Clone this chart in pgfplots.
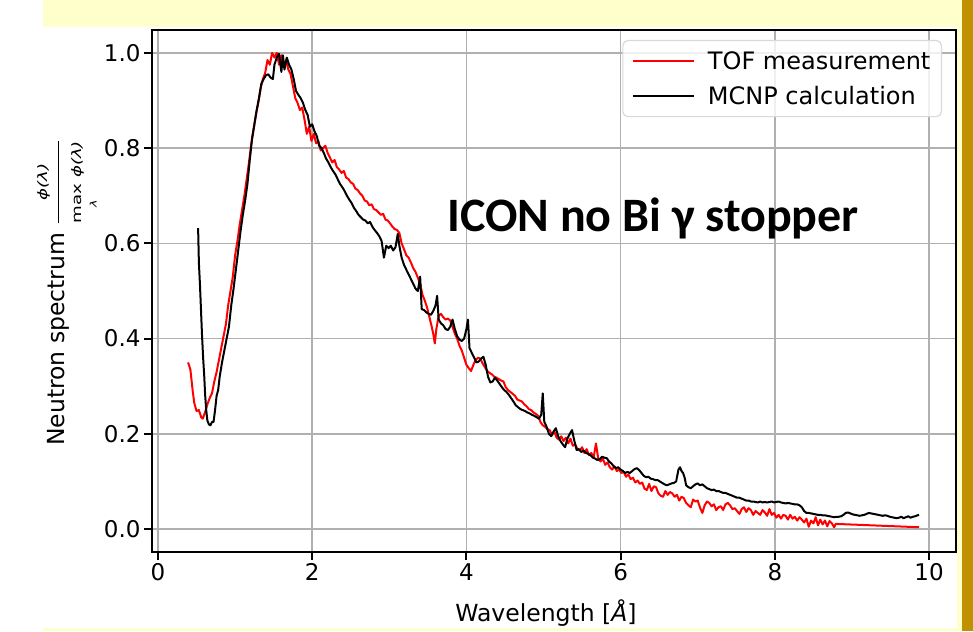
\documentclass[border=0pt]{standalone}
\usepackage{amsmath}
\usepackage{graphicx}
\usepackage{fontspec}
\setmainfont{DejaVu Sans}
\newfontfamily\calib{Carlito}
\usepackage{pgfplots}
\pgfplotsset{compat=1.18}
\definecolor{slideyellow}{RGB}{255,255,204}
\definecolor{slidegold}{RGB}{191,144,0}
\definecolor{gridgray}{RGB}{176,176,176}
\newcommand{\frc}{\scalebox{1.4}[1]{\ensuremath{\dfrac{\mbox{\fontsize{13}{13}\selectfont\itshape ϕ(λ)}}{\mathop{\mbox{\fontsize{13}{13}\selectfont max}}\limits_{\mbox{\fontsize{9}{9}\selectfont\itshape λ}}\mbox{\fontsize{13}{13}\selectfont\itshape ϕ(λ)}}}}}
\begin{document}
\begin{tikzpicture}
\fill[white] (0pt,0pt) rectangle (973pt,631pt);
\fill[slideyellow] (43pt,0pt) rectangle (962pt,631pt);
\fill[slidegold] (962pt,0pt) rectangle (973pt,631pt);
\fill[white] (43pt,3pt) rectangle (957pt,604pt);
\begin{axis}[
  at={(152pt,79pt)}, anchor=south west,
  width=804pt, height=522pt, scale only axis,
  xmin=-0.078, xmax=10.35, ymin=-0.048, ymax=1.048,
  xtick={0,2,4,6,8,10}, ytick={0,0.2,0.4,0.6,0.8,1.0},
  /pgf/number format/assume math mode=true,
  xticklabel style={/pgf/number format/.cd, fixed, precision=0},
  yticklabel style={/pgf/number format/.cd, fixed, fixed zerofill, precision=1},
  tick label style={font=\fontsize{23}{27}\selectfont},
  label style={font=\fontsize{23.5}{27}\selectfont},
  grid=major, major grid style={line width=1.6pt, color=gridgray},
  axis line style={line width=2.2pt},
  tick style={black, line width=2pt}, major tick length=8pt, tick align=outside, tick pos=left,
  xlabel={Wavelength [{\itshape Å}]},
  ylabel={Neutron spectrum \frc},
  xlabel style={at={(axis description cs:0.49,-0.134)}, anchor=base, inner sep=0pt},
  ylabel style={at={(axis description cs:-0.109,0.497)}, anchor=base, inner sep=0pt},
  legend cell align=left,
  legend image code/.code={\path (0pt,0pt) -- (61pt,0pt); \draw[#1, line width=2.2pt] (6pt,0pt) -- (61pt,0pt);},
  legend style={at={(axis description cs:1,1)}, anchor=north east, xshift=-14pt, yshift=-10pt,
    draw=gray!30, line width=1.2pt, rounded corners=5pt, fill=white, fill opacity=0.8, text opacity=1,
    font=\fontsize{24}{28}\selectfont, inner xsep=9pt, inner ysep=9pt, row sep=11pt,
    /tikz/every odd column/.append style={column sep=11pt}},
  every axis plot/.append style={line join=round},
]
\addplot[red, line width=2pt] table {
0.39 0.350
0.42 0.335
0.45 0.290
0.47 0.265
0.50 0.248
0.53 0.250
0.56 0.235
0.58 0.232
0.61 0.245
0.64 0.262
0.67 0.275
0.70 0.285
0.73 0.310
0.76 0.330
0.79 0.355
0.82 0.380
0.85 0.405
0.88 0.430
0.91 0.470
0.94 0.500
0.97 0.530
1.00 0.575
1.03 0.605
1.06 0.640
1.09 0.670
1.12 0.700
1.15 0.735
1.18 0.770
1.21 0.810
1.24 0.840
1.27 0.870
1.30 0.895
1.33 0.925
1.36 0.945
1.39 0.958
1.42 0.985
1.45 0.975
1.48 1.000
1.51 0.990
1.54 1.000
1.57 0.975
1.60 0.995
1.63 0.970
1.66 0.985
1.69 0.965
1.72 0.955
1.75 0.930
1.78 0.905
1.81 0.895
1.84 0.880
1.87 0.885
1.90 0.860
1.93 0.830
1.96 0.845
1.99 0.815
2.02 0.830
2.05 0.810
2.08 0.815
2.11 0.795
2.14 0.800
2.17 0.805
2.20 0.790
2.23 0.780
2.26 0.770
2.29 0.775
2.32 0.760
2.35 0.755
2.38 0.748
2.41 0.752
2.44 0.738
2.47 0.735
2.50 0.728
2.53 0.725
2.56 0.715
2.59 0.712
2.62 0.705
2.65 0.700
2.68 0.690
2.71 0.688
2.74 0.680
2.77 0.682
2.80 0.672
2.83 0.670
2.86 0.665
2.89 0.660
2.92 0.662
2.95 0.650
2.98 0.648
3.01 0.642
3.04 0.635
3.07 0.630
3.10 0.628
3.13 0.622
3.16 0.600
3.19 0.588
3.22 0.575
3.25 0.570
3.28 0.560
3.31 0.548
3.34 0.540
3.37 0.528
3.40 0.515
3.43 0.492
3.46 0.480
3.49 0.465
3.52 0.445
3.55 0.425
3.57 0.410
3.59 0.390
3.61 0.420
3.64 0.448
3.67 0.452
3.70 0.445
3.73 0.440
3.76 0.442
3.79 0.438
3.82 0.425
3.85 0.410
3.88 0.400
3.91 0.385
3.94 0.375
3.97 0.360
4.00 0.345
4.03 0.338
4.06 0.332
4.09 0.345
4.12 0.355
4.15 0.360
4.18 0.358
4.21 0.348
4.24 0.340
4.27 0.332
4.30 0.328
4.33 0.325
4.36 0.320
4.39 0.318
4.42 0.315
4.45 0.312
4.48 0.310
4.51 0.298
4.54 0.292
4.57 0.288
4.60 0.284
4.63 0.280
4.66 0.272
4.69 0.270
4.72 0.268
4.75 0.262
4.78 0.258
4.81 0.252
4.84 0.250
4.87 0.245
4.90 0.242
4.93 0.238
4.96 0.225
4.99 0.218
5.02 0.215
5.05 0.210
5.08 0.208
5.11 0.198
5.14 0.205
5.17 0.192
5.20 0.188
5.23 0.195
5.26 0.185
5.29 0.192
5.32 0.180
5.35 0.190
5.38 0.175
5.41 0.178
5.44 0.168
5.47 0.165
5.50 0.172
5.53 0.160
5.56 0.168
5.59 0.155
5.62 0.160
5.65 0.150
5.68 0.180
5.71 0.148
5.74 0.142
5.77 0.148
5.80 0.135
5.83 0.140
5.86 0.130
5.89 0.125
5.92 0.132
5.95 0.122
5.98 0.125
6.01 0.118
6.04 0.120
6.07 0.110
6.10 0.115
6.13 0.105
6.16 0.108
6.19 0.098
6.22 0.102
6.25 0.095
6.28 0.098
6.31 0.085
6.34 0.082
6.37 0.095
6.40 0.080
6.43 0.090
6.46 0.088
6.49 0.075
6.52 0.070
6.55 0.068
6.58 0.080
6.61 0.072
6.64 0.078
6.67 0.075
6.70 0.068
6.73 0.072
6.76 0.060
6.79 0.068
6.82 0.065
6.85 0.055
6.88 0.050
6.91 0.046
6.94 0.062
6.97 0.058
7.00 0.060
7.03 0.045
7.06 0.034
7.09 0.050
7.12 0.058
7.15 0.055
7.18 0.048
7.21 0.052
7.24 0.040
7.27 0.046
7.30 0.048
7.33 0.040
7.36 0.052
7.39 0.055
7.42 0.050
7.45 0.042
7.48 0.044
7.51 0.038
7.54 0.032
7.57 0.042
7.60 0.046
7.63 0.036
7.66 0.044
7.69 0.040
7.72 0.030
7.75 0.038
7.78 0.034
7.81 0.030
7.84 0.040
7.87 0.035
7.90 0.028
7.93 0.042
7.96 0.030
7.99 0.034
8.02 0.024
8.05 0.030
8.08 0.022
8.11 0.030
8.14 0.028
8.17 0.020
8.20 0.030
8.23 0.022
8.26 0.026
8.29 0.018
8.32 0.025
8.35 0.020
8.38 0.014
8.41 0.022
8.44 0.005
8.47 0.018
8.50 0.012
8.53 0.025
8.56 0.008
8.59 0.020
8.62 0.010
8.65 0.018
8.68 0.006
8.71 0.017
8.74 0.012
8.77 0.004
8.79 0.011
9.87 0.004
};
\addlegendentry{TOF measurement}
\addplot[black, line width=2pt] table {
0.52 0.632
0.53 0.560
0.545 0.510
0.56 0.450
0.57 0.410
0.585 0.360
0.60 0.320
0.61 0.285
0.625 0.250
0.64 0.228
0.66 0.220
0.68 0.218
0.70 0.225
0.72 0.225
0.74 0.250
0.76 0.280
0.78 0.292
0.80 0.320
0.83 0.350
0.86 0.375
0.89 0.400
0.92 0.425
0.95 0.470
0.98 0.505
1.01 0.545
1.04 0.585
1.07 0.625
1.10 0.660
1.13 0.690
1.16 0.725
1.19 0.775
1.22 0.820
1.25 0.850
1.28 0.880
1.31 0.905
1.34 0.935
1.37 0.945
1.40 0.953
1.43 0.955
1.46 0.948
1.49 0.945
1.51 0.975
1.54 0.990
1.57 0.998
1.60 0.960
1.62 0.995
1.64 0.965
1.67 0.990
1.70 0.975
1.73 0.965
1.76 0.945
1.79 0.920
1.82 0.912
1.85 0.905
1.88 0.895
1.91 0.880
1.94 0.870
1.97 0.845
2.00 0.850
2.03 0.835
2.06 0.825
2.09 0.805
2.12 0.800
2.15 0.790
2.18 0.778
2.21 0.770
2.24 0.760
2.27 0.752
2.30 0.745
2.33 0.735
2.36 0.725
2.39 0.718
2.42 0.710
2.45 0.700
2.48 0.692
2.51 0.685
2.54 0.675
2.57 0.668
2.60 0.660
2.63 0.655
2.66 0.650
2.69 0.648
2.72 0.642
2.75 0.645
2.78 0.635
2.81 0.628
2.84 0.622
2.87 0.615
2.90 0.605
2.93 0.570
2.96 0.595
2.99 0.590
3.02 0.595
3.05 0.585
3.08 0.592
3.11 0.620
3.13 0.595
3.16 0.570
3.19 0.555
3.22 0.545
3.25 0.535
3.28 0.525
3.31 0.515
3.34 0.505
3.37 0.500
3.40 0.530
3.42 0.462
3.45 0.460
3.48 0.455
3.51 0.452
3.54 0.450
3.57 0.458
3.60 0.470
3.62 0.490
3.64 0.440
3.67 0.432
3.70 0.428
3.73 0.420
3.76 0.418
3.79 0.425
3.82 0.440
3.85 0.420
3.88 0.405
3.91 0.398
3.94 0.395
3.97 0.400
4.00 0.420
4.02 0.440
4.04 0.380
4.07 0.370
4.10 0.360
4.13 0.350
4.16 0.352
4.19 0.358
4.22 0.362
4.25 0.345
4.28 0.320
4.31 0.308
4.34 0.310
4.37 0.318
4.40 0.312
4.43 0.305
4.46 0.298
4.49 0.292
4.52 0.288
4.55 0.282
4.58 0.275
4.61 0.268
4.64 0.260
4.67 0.256
4.70 0.252
4.73 0.250
4.76 0.248
4.79 0.245
4.82 0.243
4.85 0.240
4.88 0.238
4.91 0.235
4.94 0.232
4.97 0.240
4.99 0.285
5.01 0.225
5.04 0.215
5.07 0.200
5.10 0.195
5.13 0.205
5.16 0.212
5.19 0.195
5.22 0.185
5.25 0.178
5.28 0.172
5.31 0.190
5.34 0.200
5.37 0.208
5.40 0.185
5.43 0.166
5.46 0.168
5.49 0.162
5.52 0.165
5.55 0.160
5.58 0.158
5.61 0.155
5.64 0.150
5.67 0.148
5.70 0.145
5.73 0.147
5.76 0.152
5.79 0.150
5.82 0.149
5.85 0.142
5.88 0.138
5.91 0.132
5.94 0.128
5.97 0.130
6.00 0.125
6.03 0.122
6.06 0.118
6.09 0.120
6.12 0.118
6.15 0.122
6.18 0.126
6.21 0.128
6.24 0.124
6.27 0.118
6.30 0.112
6.33 0.109
6.36 0.110
6.39 0.106
6.42 0.105
6.45 0.103
6.48 0.103
6.51 0.100
6.54 0.097
6.57 0.094
6.60 0.092
6.63 0.094
6.66 0.096
6.69 0.097
6.72 0.100
6.75 0.125
6.77 0.130
6.79 0.122
6.81 0.118
6.83 0.108
6.85 0.092
6.88 0.088
6.91 0.086
6.94 0.090
6.97 0.094
7.00 0.096
7.03 0.092
7.06 0.094
7.09 0.090
7.12 0.086
7.15 0.084
7.18 0.082
7.21 0.083
7.24 0.080
7.27 0.080
7.30 0.078
7.33 0.076
7.36 0.076
7.39 0.074
7.42 0.072
7.45 0.070
7.48 0.068
7.51 0.066
7.54 0.066
7.57 0.064
7.60 0.062
7.63 0.060
7.66 0.060
7.69 0.058
7.72 0.058
7.75 0.057
7.78 0.056
7.81 0.058
7.84 0.056
7.87 0.057
7.90 0.056
7.93 0.057
7.96 0.058
7.99 0.056
8.02 0.057
8.05 0.058
8.08 0.056
8.11 0.055
8.14 0.054
8.17 0.055
8.20 0.054
8.23 0.053
8.26 0.052
8.29 0.052
8.32 0.050
8.35 0.046
8.38 0.038
8.41 0.034
8.44 0.034
8.47 0.033
8.50 0.032
8.53 0.031
8.56 0.030
8.59 0.030
8.62 0.029
8.65 0.029
8.68 0.028
8.71 0.027
8.74 0.026
8.77 0.025
8.80 0.026
8.83 0.026
8.86 0.027
8.89 0.030
8.92 0.034
8.95 0.035
8.98 0.033
9.01 0.031
9.04 0.030
9.07 0.029
9.10 0.028
9.13 0.029
9.16 0.030
9.19 0.032
9.22 0.034
9.25 0.033
9.28 0.032
9.31 0.031
9.34 0.030
9.37 0.029
9.40 0.028
9.43 0.029
9.46 0.028
9.49 0.026
9.52 0.025
9.55 0.024
9.58 0.023
9.61 0.024
9.64 0.026
9.67 0.023
9.70 0.025
9.73 0.027
9.76 0.024
9.79 0.026
9.82 0.027
9.85 0.029
9.87 0.030
};
\addlegendentry{MCNP calculation}
\end{axis}
\node[font=\calib\bfseries\fontsize{48}{56}\selectfont, anchor=base, inner sep=0pt] at (653pt,399pt) {ICON no Bi γ stopper};
\pgfresetboundingbox
\useasboundingbox (0pt,0pt) rectangle (973pt,631pt);
\end{tikzpicture}
\end{document}
